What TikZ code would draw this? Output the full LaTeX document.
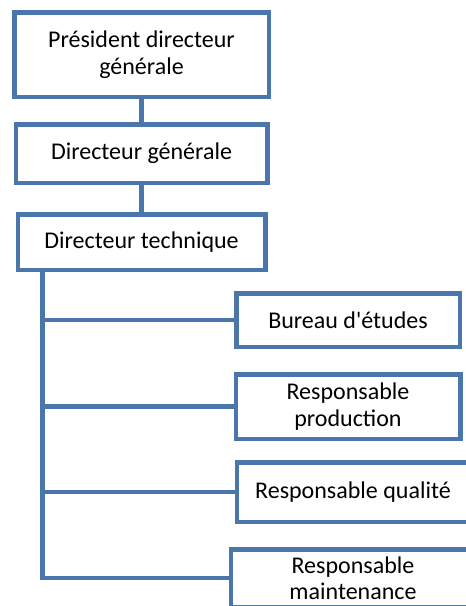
\documentclass[tikz,border=0pt]{standalone}
\usepackage{fontspec}
\setmainfont{Carlito}[Ligatures=TeXOff]
\usetikzlibrary{positioning}
\definecolor{bleu}{RGB}{74,118,172}
\tikzset{
  poste/.style={rectangle, draw=bleu, line width=4.5pt, align=center, inner sep=2pt,
    font=\fontsize{24}{26.5}\selectfont},
  lien/.style={draw=bleu, line width=4.5pt}
}

\begin{document}
\begin{tikzpicture}[x=1pt,y=-1pt]
		\useasboundingbox (0,0) rectangle (466,606);
		\clip (0,0) rectangle (466,606);

		\node[poste, minimum width=254.5pt, minimum height=84.5pt] (pdg) at (141.5,54.5) {Président directeur\\générale};
		\node[poste, minimum width=251.5pt, minimum height=58.5pt, below=23pt of pdg] (dg) {Directeur générale};
		\node[poste, minimum width=247.5pt, minimum height=55.5pt, below=27pt of dg] (dt) {Directeur technique};

		\node[poste, minimum width=223.5pt, minimum height=53.5pt] (bureau) at (348,320) {Bureau d'études};
		\node[poste, minimum width=224.5pt, minimum height=64.5pt, below=23pt of bureau] (prod) {Responsable\\production};
		\node[poste, minimum width=232pt, minimum height=59.5pt, below=19pt of prod, xshift=5pt] (qual) {Responsable qualité};
		\node[poste, minimum width=244pt, minimum height=57.5pt, below=23pt of qual] (maint) {Responsable\\maintenance};

		\coordinate (tronc) at ([xshift=27pt]dt.south west);

		\draw[lien] (pdg) -- (dg);
		\draw[lien] (dg) -- (dt);
		\draw[lien] (tronc) |- (bureau.west);
		\draw[lien] (tronc) |- (prod.west);
		\draw[lien] (tronc) |- (qual.west);
		\draw[lien] (tronc) |- (maint.west);
\end{tikzpicture}
\end{document}
